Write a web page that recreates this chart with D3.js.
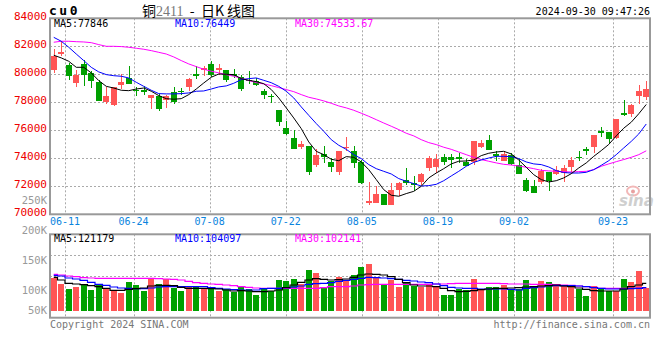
<!DOCTYPE html>
<html><head><meta charset="utf-8">
<script src="https://cdn.jsdelivr.net/npm/d3@7"></script>
<style>body{margin:0;background:#fff}svg{display:block}</style>
</head><body><svg id="c" width="660" height="360"></svg>
<script>
const dates = ["06-06","06-07","06-11","06-12","06-13","06-14","06-17","06-18","06-19","06-20","06-21","06-24","06-25","06-26","06-27","06-28",
"07-01","07-02","07-03","07-04","07-05","07-08","07-09","07-10","07-11","07-12","07-15","07-16","07-17","07-18","07-19","07-22","07-23","07-24","07-25","07-26","07-29","07-30","07-31",
"08-01","08-02","08-05","08-06","08-07","08-08","08-09","08-12","08-13","08-14","08-15","08-16","08-19","08-20","08-21","08-22","08-23","08-26","08-27","08-28","08-29","08-30",
"09-02","09-03","09-04","09-05","09-06","09-09","09-10","09-11","09-12","09-13","09-18","09-19","09-20","09-23","09-24","09-25","09-26","09-27","09-30"];
const tickDates = ["06-11","06-24","07-08","07-22","08-05","08-19","09-02","09-23"];
const priceTicks = [84000,82000,80000,78000,76000,74000,72000,70000];
const volTicks = [250000,200000,150000,100000,50000];

const open  = [80330,81550,80690,79380,80740,80100,79450,78020,77810,79260,79740,78900,78860,78330,78450,78170,78740,78830,79100,80020,
80380,80740,80380,80310,80000,79790,79620,79500,78830,78480,77450,76170,75450,74830,74880,73550,74310,73740,73020,74740,
74550,73740,70830,70830,71450,70690,71740,72480,72260,72310,73310,73400,74100,74120,74070,73760,73740,74830,75310,74290,
73830,74260,73550,72430,72020,72310,73020,72880,72930,73360,74120,74670,74830,75930,75880,75480,77240,77170,78480,78360];
const high  = [81830,82360,80810,80310,81050,80260,79620,79070,79100,80020,80620,79070,79190,78520,78600,78550,79070,79020,79740,80570,
80620,80930,80740,80330,80380,79980,80260,79740,78950,78600,77470,76690,76000,75210,74900,74690,74880,74020,74540,75520,
74860,73900,72310,72000,71470,72240,72310,73310,72710,72950,74190,74310,74310,74310,74400,73930,75250,75310,75670,74550,
74500,74360,73930,72600,72430,73260,73040,73450,73500,74070,74500,74830,75700,76210,75900,76820,78170,77880,79210,79550];
const low   = [80120,81290,79620,79100,79190,79020,78100,77880,77760,78980,79310,78480,78550,77550,77400,77600,77880,78550,78790,79690,
79860,79790,79980,79450,79740,78830,79310,79140,78260,77980,76330,75690,74670,74690,72830,73360,73670,73020,72790,74500,
73310,72200,70640,70820,70640,70640,71290,72070,71690,72070,73120,72980,73550,73290,73670,73440,73500,74740,74580,73790,
73790,73500,72900,71600,71540,72170,71690,72830,72310,72930,73790,74210,74360,75500,75120,75400,77050,76930,77880,78190];
const close = [81330,81580,79900,79980,79980,79550,78120,78450,79070,79450,79330,78790,78740,78500,77550,78430,78020,78710,79670,79900,
80430,79980,80430,79620,79930,78980,79550,79260,78500,78400,76620,75760,74690,75020,73050,74240,74070,73380,74520,74830,
73670,72210,70930,71450,70690,71740,72240,72210,72070,72880,74020,73980,73740,73880,74020,73450,75240,75120,74600,74190,
74310,73600,72910,71640,71550,73070,72360,73170,73310,73880,74020,74550,75690,75830,75360,76810,77070,77830,78830,78950];

const ma5  = [81360,81170,80930,80500,80500,80100,79550,79140,79020,78860,78830,78950,79020,78790,78480,78260,78220,78260,78550,78950,
79380,79790,80020,80000,79980,79690,79570,79480,79330,78910,78310,77600,76880,76120,75170,74500,74260,73930,73830,74120,
74070,73740,73190,72480,71760,71360,71290,71480,71640,72000,72600,72950,73260,73600,73790,73810,73880,74190,74360,74450,
74500,74310,73880,73360,72830,72480,72310,72400,72600,72900,73310,73670,74140,74550,74990,75600,76150,76580,77180,77846];
const ma10 = [82640,82360,81930,81450,80980,80500,80170,79980,79900,79860,79740,79430,79140,78860,78620,78600,78600,78620,78670,78790,
78810,78950,79100,79170,79360,79620,79690,79740,79570,79400,79140,78790,78310,77670,77070,76480,75930,75330,74930,74640,
74260,73980,73550,73260,73070,72880,72550,72360,72190,72020,72050,72140,72400,72740,73070,73430,73710,73880,74020,74140,
74140,74120,73980,73740,73600,73550,73380,73120,72980,72950,72950,73000,73190,73500,73830,74260,74740,75210,75740,76449];
const ma30 = [82290,82360,82360,82330,82310,82260,82120,82000,82000,81980,81930,81860,81790,81690,81570,81450,81240,80980,80740,80550,
80360,80220,80100,79980,79860,79720,79550,79410,79310,79190,79050,78910,78760,78550,78360,78240,78100,77930,77740,77600,
77430,77220,77000,76760,76520,76290,76050,75790,75600,75330,75120,74980,74790,74640,74450,74260,74070,73910,73790,73670,
73570,73520,73450,73360,73260,73140,73100,73070,73050,73020,73050,73070,73190,73430,73600,73760,73910,74070,74260,74534];

const volume = [120000,111000,102670,106000,111000,101000,110000,103330,98330,96000,114330,108830,99330,119330,111000,119330,104330,99330,106670,106670,
102670,106000,99330,102670,97670,105000,102170,92170,102670,98330,117670,115500,118830,110000,133830,129330,105000,114670,122170,115500,
125500,138830,144330,120500,109330,117170,105500,113830,107170,105500,110000,106670,92170,92170,102170,100500,118830,101000,105500,105500,
108830,101670,102170,117170,105500,115500,113830,110000,106670,107170,102170,90500,106670,104330,99330,99330,118830,113830,132170,103330];
const vma5 = [121600,117160,111600,110490,109380,107710,106050,103270,99940,99940,101600,102710,103830,107160,108270,108270,107710,104940,103270,103270,
103270,102710,102160,100490,98820,99380,98820,97710,97710,98820,100490,104380,108830,113270,117160,119380,118270,117160,117720,118830,
121600,125490,127160,126600,125490,122720,118270,112710,108830,107160,107160,106050,103270,99380,97710,98270,99380,101050,102160,103270,
103270,103830,104380,105490,106050,107160,107710,108830,107160,106050,103830,101600,99380,98820,98820,98820,102160,106050,108830,111600];
const vma10 = [124940,123830,120490,118830,116600,113270,109940,108270,105490,103830,103270,102710,102710,103830,105490,106050,106050,106050,106050,106050,
106050,104380,103270,102160,101050,100490,100490,100490,102710,103270,103270,104380,105490,107160,109940,111050,111600,112710,114940,116600,
118270,119940,121600,121050,120490,119380,118270,116600,115490,113830,112710,110490,107710,104940,103830,103270,103270,102160,102160,102160,
102160,101600,100490,103270,104380,105490,107160,107710,107710,107710,107160,106050,104380,103270,102160,102160,102160,102710,103270,104380];
const vma30 = [126600,125490,123830,122720,121050,120490,119940,119940,119940,119940,119940,119940,119940,119940,119380,118830,118270,117160,114940,112710,
111600,110490,109940,108830,107710,106050,104940,103830,103270,103270,103270,103270,103270,103270,103270,103270,104380,106050,106050,106050,
107160,108830,109380,109940,109940,109940,109940,109940,109940,109940,109940,110490,110490,111050,111600,111600,111600,111600,111600,111600,
111050,110490,110490,110490,109940,109940,109940,109380,108830,108270,107160,106050,104940,103270,103270,103270,103270,103270,103830,104380];

const legendMain = [{t:"MA5:77846",c:"#000"},{t:"MA10:76449",c:"#0000ff"},{t:"MA30:74533.67",c:"#ff00ff"}];
const legendVol  = [{t:"MA5:121179",c:"#000"},{t:"MA10:104097",c:"#0000ff"},{t:"MA30:102141",c:"#ff00ff"}];

const svg = d3.select('#c');
const mono = "'DejaVu Sans Mono', monospace";
const L=50, R=650, T=18.3, B=214.3;
const VT=234.3, VB=317.7, VBase=310.7;
const RED="#ff5555", GREEN="#00a000", GRID="#aaaaaa", BORDER="#999999";

const x = d3.scaleBand().domain(dates).range([L,R]).paddingInner(0.2).paddingOuter(0.1);
const bw = x.bandwidth();
const xc = d => x(d) + bw/2;
const xg = d3.scaleLinear().domain([0, dates.length-1]).range([49.8, 651]);
const y = d3.scaleLinear().domain([70000,84000]).range([B,T]);
const yv = d3.scaleLinear().domain([66000,250000]).range([VBase,200.3]);

// --- grids
const g = svg.append('g');
priceTicks.filter(v=>v>70000 && v<84000).forEach(v=>{
  g.append('line').attr('x1',L).attr('x2',R).attr('y1',Math.round(y(v))+0.5).attr('y2',Math.round(y(v))+0.5)
   .attr('stroke',GRID).attr('stroke-dasharray','2,2');
});
tickDates.forEach(d=>{
  const gx = Math.round(xg(dates.indexOf(d)))+0.5;
  g.append('line').attr('x1',gx).attr('x2',gx).attr('y1',T).attr('y2',B).attr('stroke',GRID).attr('stroke-dasharray','2,2');
  g.append('line').attr('x1',gx).attr('x2',gx).attr('y1',VT).attr('y2',VB).attr('stroke',GRID).attr('stroke-dasharray','2,2');
  svg.append('text').attr('x',xg(dates.indexOf(d))).attr('y',225).attr('text-anchor','middle')
   .attr('font-family',mono).attr('font-size',10).attr('fill','#0a84de').text(d);
});
[1,2,3].forEach(k=>{
  const gy = Math.round(VT + (VB-VT)*k/4)+0.5;
  g.append('line').attr('x1',L).attr('x2',R).attr('y1',gy).attr('y2',gy).attr('stroke',GRID).attr('stroke-dasharray','2,2');
});

// --- watermark
svg.append('ellipse').attr('cx',633).attr('cy',191).attr('rx',6).attr('ry',4.5).attr('fill','none').attr('stroke','#f2b8b8').attr('stroke-width',2);
svg.append('circle').attr('cx',633).attr('cy',191.5).attr('r',2).attr('fill','#e8a0a0');
svg.append('text').attr('x',619).attr('y',206).attr('font-family',"'DejaVu Sans', sans-serif").attr('font-style','italic')
  .attr('font-weight','bold').attr('font-size',15).attr('fill','#cfcfcf').text('sina');

// --- candles + volume bars
const cg = svg.append('g').attr('shape-rendering','crispEdges');
dates.forEach((d,i)=>{
  const up = close[i] >= open[i];
  const col = up ? RED : GREEN;
  cg.append('rect').attr('x',x(d)+Math.floor(bw/2)).attr('width',1)
    .attr('y',y(high[i])).attr('height',Math.max(1,y(low[i])-y(high[i]))).attr('fill',col);
  const top = y(Math.max(open[i],close[i])), bot = y(Math.min(open[i],close[i]));
  cg.append('rect').attr('x',x(d)).attr('width',bw).attr('y',top).attr('height',Math.max(1.5,bot-top)).attr('fill',col);
  cg.append('rect').attr('x',x(d)).attr('width',bw).attr('y',yv(volume[i])).attr('height',VBase-yv(volume[i])).attr('fill',col);
});

// --- MA lines
const lineP = d3.line().x((v,i)=>xc(dates[i])).y(v=>y(v));
[[ma30,'#ff00ff'],[ma10,'#0000ff'],[ma5,'#000000']].forEach(([arr,c])=>{
  svg.append('path').attr('d',lineP(arr)).attr('fill','none').attr('stroke',c).attr('stroke-width',1);
});
const lineV = d3.line().curve(d3.curveStep).x((v,i)=>xc(dates[i])).y(v=>yv(v));
[[vma30,'#ff00ff'],[vma10,'#0000ff'],[vma5,'#000000']].forEach(([arr,c])=>{
  svg.append('path').attr('d',lineV(arr)).attr('fill','none').attr('stroke',c).attr('stroke-width',1.2);
});

// --- borders
svg.append('rect').attr('x',L).attr('y',T).attr('width',R-L).attr('height',B-T).attr('fill','none').attr('stroke',BORDER).attr('stroke-width',2);
svg.append('rect').attr('x',L).attr('y',VT).attr('width',R-L).attr('height',VB-VT).attr('fill','none').attr('stroke',BORDER).attr('stroke-width',2);

// --- axis labels
priceTicks.forEach(v=>{
  svg.append('text').attr('x',47).attr('y',y(v)+1.2).attr('text-anchor','end')
    .attr('font-family',mono).attr('font-size',11).attr('fill','#ee0000').text(v);
});
volTicks.forEach(v=>{
  svg.append('text').attr('x',47).attr('y',Math.min(yv(v),VBase)+3.7).attr('text-anchor','end')
    .attr('font-family',mono).attr('font-size',10.5).attr('fill','#999999').text((v/1000)+'K');
});

// --- legends
const legX = [54,175,295];
legendMain.forEach((l,i)=>{
  svg.append('text').attr('x',legX[i]).attr('y',27).attr('font-family',mono).attr('font-size',10).attr('fill',l.c).text(l.t);
});
legendVol.forEach((l,i)=>{
  svg.append('text').attr('x',legX[i]).attr('y',241.5).attr('font-family',mono).attr('font-size',10).attr('fill',l.c).text(l.t);
});

// --- titles
svg.append('text').attr('x',49).attr('y',15).attr('font-family',mono).attr('font-weight','bold')
  .attr('font-size',13).attr('letter-spacing',2.5).attr('fill','#000').text('cu0');
const tt = svg.append('text').attr('x',142).attr('y',15.5).attr('font-family',"'Noto Sans CJK SC', sans-serif").attr('font-size',14).attr('fill','#000');
tt.append('tspan').text('铜');
tt.append('tspan').attr('font-family',"'Liberation Serif', serif").attr('fill','#777').text('2411');
tt.append('tspan').attr('xml:space','preserve').style('white-space','pre').text('  -  日K 线图');
svg.append('text').attr('x',650).attr('y',15).attr('text-anchor','end').attr('font-family',mono).attr('font-size',10).attr('fill','#000').text('2024-09-30 09:47:26');

svg.append('text').attr('x',50).attr('y',327.5).attr('font-family',mono).attr('font-size',10).attr('fill','#777').text('Copyright 2024 SINA.COM');
svg.append('text').attr('x',650).attr('y',327.5).attr('text-anchor','end').attr('font-family',mono).attr('font-size',10).attr('fill','#777').text('http://finance.sina.com.cn');
</script></body></html>
